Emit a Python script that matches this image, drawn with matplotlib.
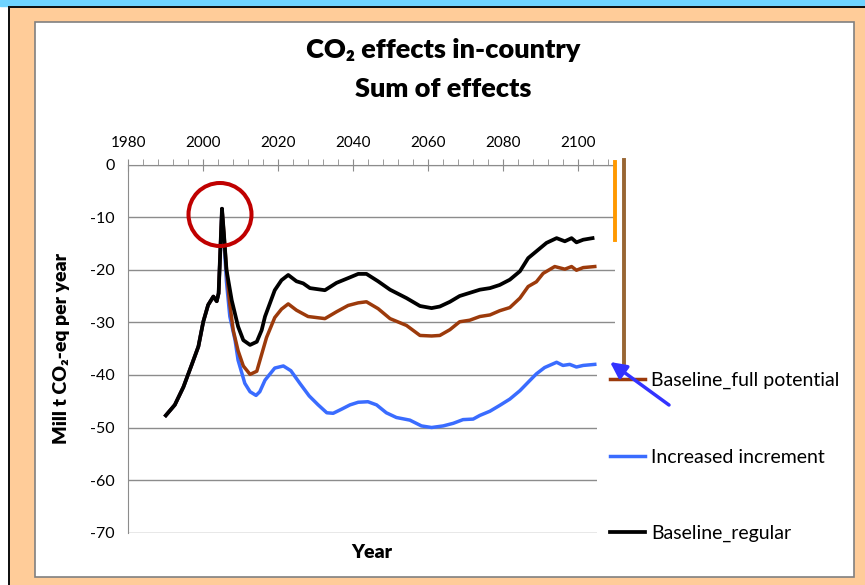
import matplotlib
matplotlib.use("Agg")
import matplotlib.pyplot as plt
from matplotlib.patches import Rectangle, Ellipse
from matplotlib.lines import Line2D
from matplotlib.ticker import MultipleLocator

plt.rcParams['font.family'] = ['Lato', 'DejaVu Sans']
plt.rcParams['axes.unicode_minus'] = False

# common start of all three scenarios (history up to the 2005 peak)
shared_years = [1990, 1992.4, 1994.7, 1996.9, 1998.7, 2000, 2001.3, 2002.7,
                2003.6, 2004.1, 2005]
shared_vals = [-47.7, -45.7, -42.3, -38.1, -34.6, -29.9, -26.7, -25.1,
               -26.0, -24.5, -8.4]

regular_years = [2005.5, 2006.2, 2007.6, 2009.3, 2010.7, 2012.5, 2014.3, 2015.6,
                 2016.5, 2017.8, 2019.1, 2020.9, 2022.7, 2024.9, 2026.7, 2028.5,
                 2032.5, 2035.6, 2038.7, 2041.4, 2043.6, 2046.7, 2049.9, 2054.3,
                 2057.9, 2061, 2063.2, 2065.9, 2068.5, 2071.2, 2073.9, 2076.6,
                 2079.2, 2081.9, 2084.6, 2086.8, 2089, 2091.7, 2094.4, 2096.6,
                 2098.4, 2099.7, 2101.5, 2104]
regular_vals = [-13, -20, -25.8, -30.8, -33.4, -34.3, -33.7, -31.5,
                -28.9, -26.4, -23.9, -22, -21, -22.2, -22.6, -23.5,
                -23.9, -22.5, -21.6, -20.8, -20.8, -22.2, -23.8, -25.4,
                -26.9, -27.3, -27.0, -26.1, -25, -24.4, -23.8, -23.5,
                -22.9, -21.9, -20.3, -17.8, -16.5, -14.9, -14, -14.6,
                -14, -14.8, -14.3, -14]

full_years = [2005.5, 2006.2, 2007, 2008, 2009.3, 2010.7, 2012.5, 2014.3,
              2015.6, 2016.9, 2019.1, 2020.9, 2022.7, 2024.9, 2028, 2032.5,
              2035.6, 2038.7, 2041.4, 2043.6, 2046.7, 2049.9, 2054.3, 2057.9,
              2061, 2063.2, 2065.9, 2068.5, 2071.2, 2073.9, 2076.6, 2079.2,
              2081.9, 2084.6, 2086.8, 2089, 2090.8, 2093.9, 2096.6, 2098.4,
              2099.7, 2101.5, 2104.6]
full_vals = [-13, -20, -26, -31.5, -35.4, -38.3, -39.9, -39.3,
             -36.1, -32.9, -29.1, -27.5, -26.5, -27.7, -28.9, -29.3,
             -28, -26.8, -26.3, -26.1, -27.4, -29.3, -30.6, -32.5,
             -32.6, -32.5, -31.4, -29.9, -29.6, -28.9, -28.6, -27.8,
             -27.2, -25.4, -23.2, -22.3, -20.7, -19.4, -19.9, -19.4,
             -20.1, -19.6, -19.4]

incr_years = [2005.5, 2006.2, 2007.1, 2008.5, 2009.3, 2011.1, 2012.5, 2014.1,
              2015.1, 2016.5, 2019.1, 2021.4, 2023.4, 2025.8, 2028.3, 2030.7,
              2033, 2034.7, 2037, 2039.2, 2041.4, 2044, 2046.3, 2048.9,
              2051.6, 2055.2, 2058.3, 2061, 2064.1, 2066.8, 2069.4, 2072.1,
              2073.9, 2076.6, 2079.2, 2081.9, 2084.6, 2087.2, 2089, 2091.2,
              2094.4, 2096.1, 2097.9, 2099.7, 2101.5, 2104.6]
incr_vals = [-14, -22.3, -28.9, -33.4, -37.2, -41.6, -43.2, -43.9,
             -43.2, -41, -38.7, -38.3, -39.2, -41.6, -44, -45.7,
             -47.2, -47.3, -46.5, -45.7, -45.2, -45.1, -45.7, -47.2,
             -48.1, -48.6, -49.7, -50, -49.7, -49.2, -48.5, -48.4,
             -47.7, -46.9, -45.8, -44.6, -43, -41.1, -39.8, -38.6,
             -37.6, -38.2, -38, -38.5, -38.2, -38]

labels = ['Baseline_full potential', 'Increased increment', 'Baseline_regular']
colors = ['#9C3A0B', '#3A6CFF', '#000000']
x_ticks = list(range(1980, 2101, 20))
y_ticks = list(range(-70, 1, 10))

W, H = 865, 585
fig = plt.figure(figsize=(W / 100, H / 100), dpi=100, facecolor='white')


def px(x, y):
    # pixel position (from top-left) to figure fraction
    return x / W, 1 - y / H


# frame around the chart
fig.add_artist(Rectangle(px(0, 6), 1, 6 / H, transform=fig.transFigure,
                         color='#6FD3FF', zorder=-10))
fig.add_artist(Rectangle(px(8, H), 1, (H - 6) / H, transform=fig.transFigure,
                         facecolor='#111111', edgecolor='none', zorder=-10))
fig.add_artist(Rectangle(px(10, H), 1, (H - 8) / H, transform=fig.transFigure,
                         facecolor='#FFCC99', edgecolor='none', zorder=-9))
fig.add_artist(Rectangle(px(35, 577), (854 - 35) / W, (577 - 22) / H,
                         transform=fig.transFigure, facecolor='white',
                         edgecolor='#808080', lw=1.2, zorder=-8))

left, right, top, bottom = 128.4, 615, 164.5, 532.7
ax = fig.add_axes([left / W, 1 - bottom / H, (right - left) / W, (bottom - top) / H])
ax.set_facecolor('none')

l_full, = ax.plot(shared_years + full_years, shared_vals + full_vals,
                  color=colors[0], lw=2.5, label=labels[0])
l_incr, = ax.plot(shared_years + incr_years, shared_vals + incr_vals,
                  color=colors[1], lw=2.5, label=labels[1])
l_reg, = ax.plot(shared_years + regular_years, shared_vals + regular_vals,
                 color=colors[2], lw=2.7, label=labels[2])
l_incr.set_zorder(2.1)
l_full.set_zorder(2.2)
l_reg.set_zorder(2.3)

ax.set_xlim(1980, 2110)
ax.set_ylim(-70, 0)
ax.set_xticks(x_ticks)
ax.xaxis.set_minor_locator(MultipleLocator(4))
ax.set_yticks(y_ticks)
ax.xaxis.tick_top()
ax.tick_params(axis='x', which='major', direction='inout', length=9,
               color='#8C8C8C', labelsize=11, pad=6)
ax.tick_params(axis='x', which='minor', direction='out', length=4,
               color='#8C8C8C')
ax.tick_params(axis='y', length=0, labelsize=11.5, pad=10)
ax.yaxis.grid(True, color='#8C8C8C', lw=1)
for side in ['right', 'bottom']:
    ax.spines[side].set_visible(False)
for side in ['top', 'left']:
    ax.spines[side].set_color('#8C8C8C')

ax.xaxis.set_label_position('bottom')
ax.set_xlabel('Year', fontsize=14, fontweight='heavy', labelpad=8)
ax.set_ylabel('Mill t CO₂-eq per year', fontsize=14, fontweight='heavy',
              labelpad=14)

fig.text(*px(443, 50), 'CO₂ effects in-country', fontsize=19.5,
         fontweight='heavy', ha='center', va='center')
fig.text(*px(443, 89), 'Sum of effects', fontsize=19.5,
         fontweight='heavy', ha='center', va='center')

leg = ax.legend(handles=[l_full, l_incr, l_reg], loc='upper left',
                bbox_to_anchor=px(597, 359), bbox_transform=fig.transFigure,
                fontsize=14, handlelength=1.8, handletextpad=0.3,
                labelspacing=3.05, borderpad=0.67, borderaxespad=0,
                frameon=True, fancybox=False, framealpha=1)
leg.get_frame().set_facecolor('white')
leg.get_frame().set_linewidth(0)

# highlight of the 2005 peak
cx, cy = px(220, 214.5)
fig.add_artist(Ellipse((cx, cy), 63 / W, 63 / H, transform=fig.transFigure,
                       fill=False, edgecolor='#C00000', lw=2.9, zorder=5))

# range markers to the right of the plot
fig.add_artist(Line2D([615 / W] * 2, [1 - 162 / H, 1 - 240 / H],
                      transform=fig.transFigure, color='#FF9900', lw=2.8))
fig.add_artist(Line2D([624 / W] * 2, [1 - 160 / H, 1 - 363 / H],
                      transform=fig.transFigure, color='#996633', lw=2.8))
fig.add_artist(plt.Annotation('', xy=(610, H - 362), xytext=(669, H - 405),
                              xycoords='figure pixels',
                              arrowprops=dict(arrowstyle='-|>', color='#3333FF',
                                              lw=2.5, mutation_scale=24,
                                              shrinkA=0, shrinkB=0)))

fig.savefig('out.png', dpi=100)
